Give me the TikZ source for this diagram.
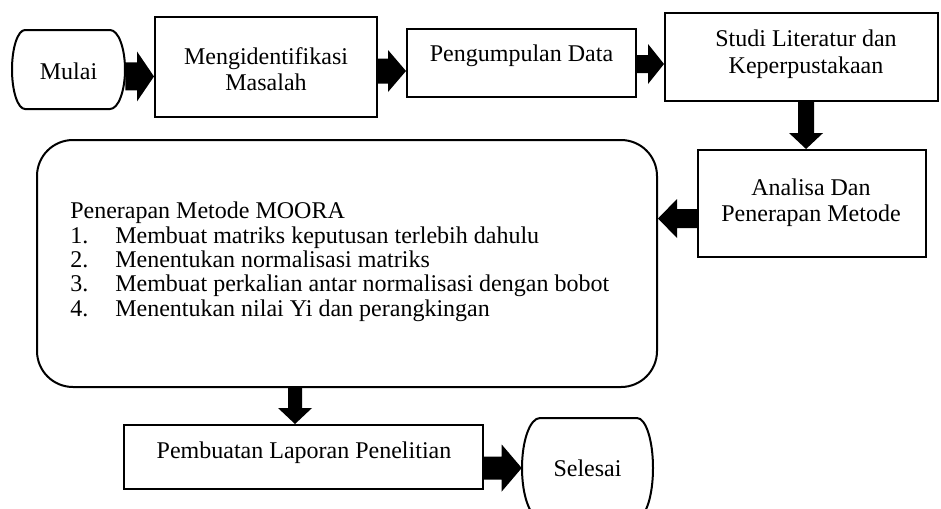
\documentclass[tikz,border=0pt]{standalone}
\usepackage{fontspec}
\setmainfont{Liberation Serif}
\usetikzlibrary{calc}
\tikzset{
  box/.style={draw, line width=1.5pt, inner sep=0pt},
  outline/.style={draw, line width=1.5pt},
  txt/.style={inner sep=0pt, align=center, font=\fontsize{18}{19.5}\selectfont},
  ltxt/.style={inner sep=0pt, anchor=base west, font=\fontsize{18}{18}\selectfont},
  holder/.style={inner sep=0pt, font=\fontsize{18}{19.5}\selectfont},
  arrR/.style n args={3}{to path={let \p1=(\tikztostart),\p2=(\tikztotarget) in
    (\x1,{\y1+#1*0.75pt}) -- ({\x2-#3*0.75pt},{\y1+#1*0.75pt}) -- ({\x2-#3*0.75pt},{\y1+#2*0.75pt})
    -- (\x2,\y1) -- ({\x2-#3*0.75pt},{\y1-#2*0.75pt}) -- ({\x2-#3*0.75pt},{\y1-#1*0.75pt})
    -- (\x1,{\y1-#1*0.75pt}) -- cycle}},
  arrL/.style n args={3}{to path={let \p1=(\tikztostart),\p2=(\tikztotarget) in
    (\x1,{\y1+#1*0.75pt}) -- ({\x2+#3*0.75pt},{\y1+#1*0.75pt}) -- ({\x2+#3*0.75pt},{\y1+#2*0.75pt})
    -- (\x2,\y1) -- ({\x2+#3*0.75pt},{\y1-#2*0.75pt}) -- ({\x2+#3*0.75pt},{\y1-#1*0.75pt})
    -- (\x1,{\y1-#1*0.75pt}) -- cycle}},
  arrD/.style n args={3}{to path={let \p1=(\tikztostart),\p2=(\tikztotarget) in
    ({\x1+#1*0.75pt},\y1) -- ({\x1+#1*0.75pt},{\y2+#3*0.75pt}) -- ({\x1+#2*0.75pt},{\y2+#3*0.75pt})
    -- (\x1,\y2) -- ({\x1-#2*0.75pt},{\y2+#3*0.75pt}) -- ({\x1-#1*0.75pt},{\y2+#3*0.75pt})
    -- ({\x1-#1*0.75pt},\y1) -- cycle}},
}
\begin{document}
\begin{tikzpicture}[x=0.75pt,y=-0.75pt]
\useasboundingbox (0,0) rectangle (941,508);
\clip (0,0) rectangle (941,508);

% Mulai terminal
\draw[outline] (25,30) -- (110,30) arc[start angle=-90,end angle=90,x radius=15,y radius=39.5]
  -- (25,109) arc[start angle=90,end angle=270,x radius=13,y radius=39.5] -- cycle;
\node[holder, minimum width=113*0.75pt, minimum height=79*0.75pt] (mulai) at (68.5,71) {Mulai};

% top row boxes
\node[box, minimum width=222*0.75pt, minimum height=100*0.75pt] (ment) at (266,67) {};
\node[txt] (mentT) at (266,69.5) {Mengidentifikasi\\Masalah};

\node[box, minimum width=229*0.75pt, minimum height=68*0.75pt] (peng) at (521.5,63) {};
\node[txt] (pengT) at (521.5,56) {Pengumpulan Data};

\node[box, minimum width=273*0.75pt, minimum height=88*0.75pt] (studi) at (801.5,57) {};
\node[txt, font=\fontsize{18}{20.5}\selectfont] (studiT) at (806,54) {Studi Literatur dan\\Keperpustakaan};

\node[box, minimum width=228*0.75pt, minimum height=107*0.75pt] (anal) at (812,203.5) {};
\node[txt] (analT) at (811,203) {Analisa Dan\\Penerapan Metode};

% big rounded box
\node[box, rounded corners=27pt, minimum width=620*0.75pt, minimum height=247*0.75pt] (big) at (347,263.5) {};
\node[ltxt] (l0) at (70,218) {Penerapan Metode MOORA};
\node[ltxt] (l1) at (70,243) {\makebox[33.75pt][l]{1.}Membuat matriks keputusan terlebih dahulu};
\node[ltxt] (l2) at (70,267) {\makebox[33.75pt][l]{2.}Menentukan normalisasi matriks};
\node[ltxt] (l3) at (70,291.5) {\makebox[33.75pt][l]{3.}Membuat perkalian antar normalisasi dengan bobot};
\node[ltxt] (l4) at (70,316) {\makebox[33.75pt][l]{4.}Menentukan nilai Yi dan perangkingan};

% bottom row
\node[box, minimum width=359*0.75pt, minimum height=64*0.75pt] (pemb) at (303.5,457) {};
\node[txt] (pembT) at (304,453) {Pembuatan Laporan Penelitian};

\draw[outline] (540,418) -- (637,418) arc[start angle=-90,end angle=90,x radius=16,y radius=50]
  -- (540,518) arc[start angle=90,end angle=270,x radius=18,y radius=50] -- cycle;
\node[holder, minimum width=131*0.75pt, minimum height=100*0.75pt] (selesai) at (587.5,468) {Selesai};

% block arrows
\fill ([yshift=-4.1pt]mulai.east) to[arrR={14}{25}{17}] (ment.west);
\fill ([yshift=-3pt]ment.east) to[arrR={12.5}{21}{18}] (peng.west);
\fill ([yshift=-0.75pt]peng.east) to[arrR={9}{20}{16}] (studi.west);
\fill ([xshift=3.4pt]studi.south) to[arrD={8}{17}{16}] (anal.north);
\fill ([yshift=-11.25pt]anal.west) to[arrL={9.5}{19.5}{19}] (big.east);
\fill ([xshift=-39pt]big.south) to[arrD={7}{17}{16}] (pemb.north);
\fill ([yshift=-8.25pt]pemb.east) to[arrR={11.5}{23.5}{20}] (selesai.west);
\end{tikzpicture}
\end{document}
